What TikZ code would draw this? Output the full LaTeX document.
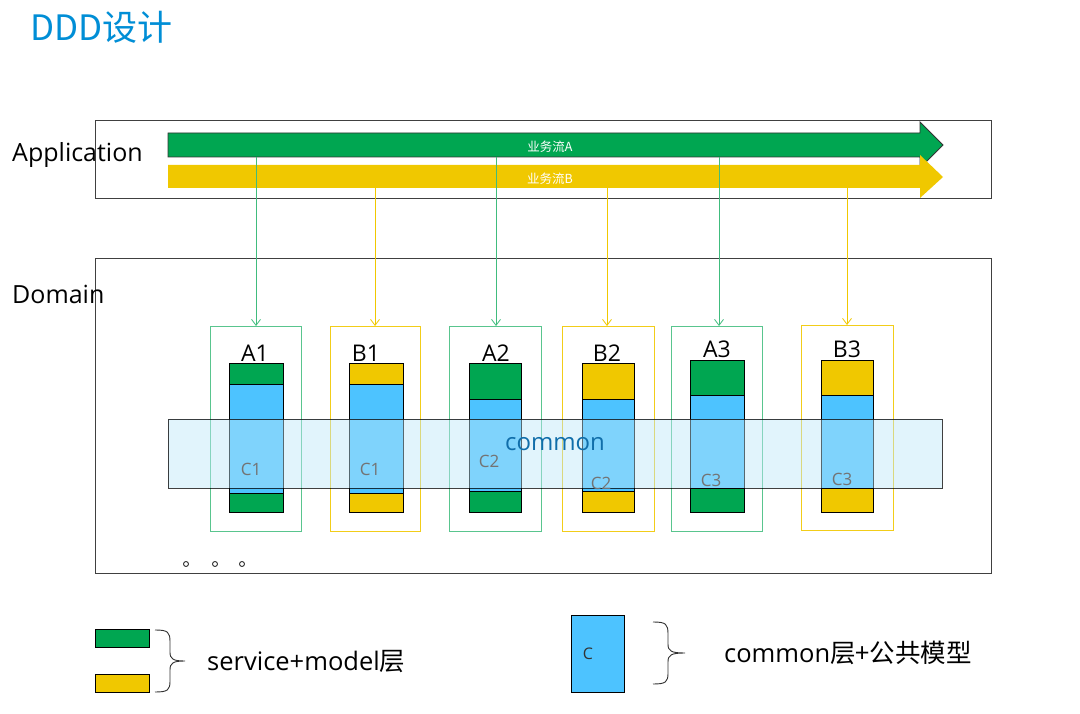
\documentclass[tikz,border=0pt]{standalone}
\usepackage{fontspec}
\setmainfont{Open Sans}
\newfontfamily\cjk{Noto Sans CJK SC}
\usetikzlibrary{arrows.meta}
\definecolor{gr}{RGB}{0,166,81}
\definecolor{ye}{RGB}{240,200,0}
\definecolor{bl}{RGB}{77,195,255}
\definecolor{bandc}{RGB}{190,231,250}
\definecolor{ttl}{RGB}{0,142,214}
\definecolor{cmn}{RGB}{16,110,170}
\newcommand{\fs}[1]{\fontsize{#1}{#1}\selectfont}
\tikzset{
  frame/.style={draw=black!75, line width=0.8pt},
  flowtxt/.style={text=white, font=\cjk\fs{12.5}, inner sep=0},
  lbl/.style={font=\fs{25}, anchor=base west, inner sep=0},
  collbl/.style={font=\fs{23}, anchor=base, inner sep=0},
  clbl/.style={font=\fs{17}, text=black!55, inner sep=0},
  outerA/.style={draw=gr!65, line width=0.8pt, inner sep=0, anchor=north west},
  outerB/.style={draw=ye!90, line width=0.8pt, inner sep=0, anchor=north west},
  seg/.style={draw=black, line width=0.8pt, inner sep=0, anchor=north west},
  linkA/.style={draw=gr!75, line width=0.8pt, -{Straight Barb[length=6pt,width=9pt]}},
  linkB/.style={draw=ye, line width=0.8pt, -{Straight Barb[length=6pt,width=9pt]}},
  bracestyle/.style={draw=black!80, line width=0.9pt},
}
% name, xl, xr, top, split1, split2, colour
\newcommand{\colm}[7]{%
  \node[seg, fill=bl, minimum width={#3-#2}, minimum height={#6-#5}] (#1mid) at (#2,#5) {};
  \node[seg, fill=#7, minimum width={#3-#2}, minimum height={#5-#4}] (#1top) at (#2,#4) {};
  \node[seg, fill=#7, minimum width={#3-#2}, minimum height={512-#6}] (#1bot) at (#2,#6) {};
}
\begin{document}
\begin{tikzpicture}[x=1pt,y=-1pt]
\useasboundingbox[fill=white] (0,0) rectangle (1080,714);

% title
\node[font=\cjk\fs{35}, text=ttl, anchor=base west, inner sep=0] (title) at (30,41) {DDD设计};

% layer frames
\node[frame, anchor=north west, minimum width=896, minimum height=78, inner sep=0] (app) at (95,120) {};
\node[frame, anchor=north west, minimum width=896, minimum height=315, inner sep=0] (dom) at (95,258) {};
\node[lbl] (applbl) at (12,162) {Application};
\node[lbl] (domlbl) at (12,304) {Domain};

% flows
\draw[fill=gr, draw=black!80, line width=0.8pt]
  (168,133) -- (920,133) -- (920,122) -- (943,145) -- (920,168) -- (920,157) -- (168,157) -- cycle;
\draw[fill=ye, draw=none]
  (168,165) -- (920,165) -- (920,155) -- (943,177) -- (920,198) -- (920,188) -- (168,188) -- cycle;
\node[flowtxt] (fa) at (550,147) {业务流A};
\node[flowtxt] (fb) at (550,179) {业务流B};

% outer boxes
\node[outerA, minimum width=91, minimum height=205] (A1box) at (210,326) {};
\node[outerB, minimum width=90, minimum height=205] (B1box) at (330,326) {};
\node[outerA, minimum width=92, minimum height=205] (A2box) at (449,326) {};
\node[outerB, minimum width=92, minimum height=205] (B2box) at (562,326) {};
\node[outerA, minimum width=91, minimum height=205] (A3box) at (671,326) {};
\node[outerB, minimum width=92, minimum height=205] (B3box) at (801,325) {};

% links from flows
\coordinate (sA1) at (256,157);
\coordinate (sB1) at (375,188);
\coordinate (sA2) at (496,157);
\coordinate (sB2) at (607,188);
\coordinate (sA3) at (719,157);
\coordinate (sB3) at (847,188);
\draw[linkA] (sA1) -- (sA1 |- A1box.north);
\draw[linkB] (sB1) -- (sB1 |- B1box.north);
\draw[linkA] (sA2) -- (sA2 |- A2box.north);
\draw[linkB] (sB2) -- (sB2 |- B2box.north);
\draw[linkA] (sA3) -- (sA3 |- A3box.north);
\draw[linkB] (sB3) -- (sB3 |- B3box.north);

% column labels
\node[collbl] (A1l) at (255,361) {A1};
\node[collbl] (B1l) at (366,361) {B1};
\node[collbl] (A2l) at (496,361) {A2};
\node[collbl] (B2l) at (607,361) {B2};
\node[collbl] (A3l) at (717,357) {A3};
\node[collbl] (B3l) at (847,357) {B3};

% columns
\colm{A1}{229}{283}{363}{384}{493}{gr}
\colm{B1}{349}{403}{363}{384}{493}{ye}
\colm{A2}{469}{521}{363}{399}{491}{gr}
\colm{B2}{582}{634}{363}{399}{491}{ye}
\colm{A3}{690}{744}{360}{395}{488}{gr}
\colm{B3}{821}{873}{360}{395}{488}{ye}

% common band
\node[anchor=north west, minimum width=774, minimum height=69, inner sep=0,
      fill=bandc, fill opacity=0.45, draw=black, draw opacity=0.75, line width=0.8pt] (band) at (168,419) {};
\node[font=\fs{24}, text=cmn, inner sep=0] (cmnlbl) at (555,444) {common};

\node[clbl] (c1a) at (251,469) {C1};
\node[clbl] (c1b) at (370,469) {C1};
\node[clbl] (c2a) at (489,461) {C2};
\node[clbl] (c2b) at (601,483) {C2};
\node[clbl] (c3a) at (711,480) {C3};
\node[clbl] (c3b) at (842,479) {C3};

% ellipsis dots
\foreach \x [count=\i] in {186,215,242}
  \node[circle, draw=black!80, line width=0.9pt, minimum size=5pt, inner sep=0] (dot\i) at (\x,564) {};

% legend
\node[seg, fill=gr, minimum width=54, minimum height=18] (lg1) at (95,629) {};
\node[seg, fill=ye, minimum width=54, minimum height=18] (lg2) at (95,674) {};
\draw[bracestyle] (155,630) .. controls (168,630) and (170,632) .. (170,642)
  -- (170,652) .. controls (170,659) and (173,661) .. (185,661)
  .. controls (173,661) and (170,663) .. (170,670)
  -- (170,681) .. controls (170,690) and (168,692) .. (155,692);
\node[lbl, font=\fs{25.5}] (lgt1) at (207,670) {service+model{\cjk 层}};

\node[seg, fill=bl, minimum width=53, minimum height=77] (lg3) at (571,615) {};
\node[font=\fs{16}, text=black!80, inner sep=0] (lgc) at (588,654) {C};
\draw[bracestyle] (653,622) .. controls (666,622) and (668,624) .. (668,634)
  -- (668,644) .. controls (668,651) and (671,653) .. (685,653)
  .. controls (671,653) and (668,655) .. (668,662)
  -- (668,673) .. controls (668,682) and (666,684) .. (653,684);
\node[lbl, font=\fs{25.5}] (lgt2) at (724,662) {common{\cjk 层+公共模型}};
\end{tikzpicture}
\end{document}
